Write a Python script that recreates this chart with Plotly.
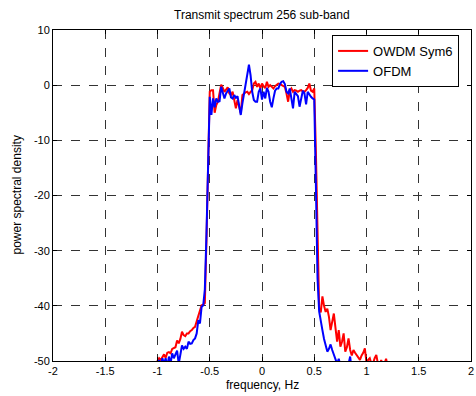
import numpy as np
import plotly.graph_objects as go

# frequency grid index k -> f = k/64 Hz, k from -68 to 80
k_index = list(range(-68, 81))
freq = [k / 64 for k in k_index]

owdm_sym6 = [
    # k=-68 .. -33 (left tail)
    -52, -51.5, -51, -50.5, -50, -49.5, -49.8, -49.2, -48.8, -49.4,
    -48.5, -48.4, -48.6, -47.8, -47.6, -47.5, -46.3, -46.8, -46, -44.7,
    -45.3, -45.5, -45, -45, -44.6, -44.4, -44, -43.8, -42.8, -41.7,
    -40.8, -39.9, -39.8, -39.5, -28, -13,
    # k=-32 .. 32 (pass band)
    -1.2, -0.9, -0.9, -5.0, -3.6, -3.0, -1.2, 0.1, -0.5, -1.2,
    -0.8, -0.4, -1.5, -1.8, -1.2, -2.5, -4.2, -2.7, -4.0, -5.1,
    -1.8, -1.5, -1.3, -1.2, -1.6, -1.2, -0.9, 0.3, 0.6, -0.3,
    0.3, -0.6, 0.3, -0.2, -0.5, 0.6, -0.3, 0.0, -0.3, -0.6,
    -0.2, 0.0, 0.3, 0.2, 0.0, -0.2, -0.3, -1.5, -3.0, -1.0,
    -0.6, -1.2, -0.9, -1.0, -1.2, -1.0, -0.9, -1.1, -1.2, -0.9,
    -0.5, 0.3, -1.0, -1.2, -0.6,
    # k=33 .. 80 (right tail)
    -12, -30, -40.5, -41.2, -38.3, -40, -41.1, -40.5, -42, -44.4,
    -42.5, -41.4, -44, -46.5, -44.4, -47.4, -46.5, -45, -48.3, -47.5,
    -45.9, -48, -49, -48, -48.5, -48.9, -49.5, -49.8, -49, -48.5,
    -47.7, -50.4, -49.8, -49.5, -50.5, -50.4, -49.5, -48.9, -50.5, -51,
    -49.8, -51, -50.5, -49.6, -51, -52, -51, -52,
]

ofdm = [
    # k=-68 .. -33 (left tail)
    -53, -52, -53, -52, -51, -49.8, -51, -49.5, -50.5, -49.5,
    -51, -49.2, -50.5, -48.6, -49.5, -48.8, -48.1, -50.5, -48.4, -47.2,
    -47.8, -47.4, -47.8, -46.5, -46.9, -46.8, -46.2, -45.9, -45, -42.6,
    -43.2, -40.2, -39.9, -37, -27, -12,
    # k=-32 .. 32 (pass band)
    -2.1, -5.4, -2.4, -4.0, -2.4, -3.0, -2.9, -0.3, -1.2, -2.4,
    -1.5, -0.9, -0.6, -2.2, -2.4, -1.8, -2.3, -2.0, -3.5, -5.4,
    -3.3, -1.5, 0.2, 1.8, 3.7, 1.8, -1.2, -2.7, -3.0, -3.0,
    -1.2, -0.6, -2.6, -1.2, -2.4, -0.5, -1.2, -3.0, -4.0, -2.4,
    -1.0, -0.6, -0.6, 0.2, 0.6, 0.7, 0.2, -1.2, -1.5, -0.6,
    -2.4, -4.2, -1.2, -1.6, -2.0, -3.9, -2.5, -1.0, -1.5, -3.5,
    -1.2, -1.8, -2.1, -2.4, -2.6,
    # k=33 .. 80 (right tail)
    -18, -35, -41, -43, -44.4, -46, -47.1, -48.3, -47.8, -47,
    -48, -48.9, -49.5, -50.5, -49.6, -50.8, -50.2, -51, -50.5, -51.5,
    -50.5, -49.2, -52, -53, -52.5, -54, -53, -55, -54, -53.5,
    -55, -56, -54, -55.5, -56, -55, -57, -56, -56.5, -57,
    -58, -57, -56.5, -58, -57.5, -59, -58, -58.5,
]

x_tickvals = [-2, -1.5, -1, -0.5, 0, 0.5, 1, 1.5, 2]
x_ticktext = ["-2", "-1.5", "-1", "-0.5", "0", "0.5", "1", "1.5", "2"]
y_tickvals = [-50, -40, -30, -20, -10, 0, 10]
y_ticktext = ["-50", "-40", "-30", "-20", "-10", "0", "10"]

FONT = "Liberation Sans, Arial, Helvetica, sans-serif"

fig = go.Figure()
fig.add_trace(go.Scatter(x=freq, y=owdm_sym6, mode="lines", name="OWDM Sym6",
                         line=dict(color="#ff0000", width=2)))
fig.add_trace(go.Scatter(x=freq, y=ofdm, mode="lines", name="OFDM",
                         line=dict(color="#0000ff", width=2)))

axis_common = dict(
    showline=True, linecolor="black", linewidth=1, mirror="ticks",
    ticks="inside", ticklen=4, tickcolor="black",
    showgrid=True, gridcolor="#333333", griddash="dash", gridwidth=1,
    zeroline=False, tickfont=dict(family=FONT, size=11, color="black"),
    ticklabeloverflow="allow",
)

fig.update_layout(
    width=476, height=396,
    margin=dict(l=53, r=2, t=30, b=35),
    paper_bgcolor="white", plot_bgcolor="white",
    showlegend=True,
    legend=dict(x=0.9715, y=0.985, xanchor="right", yanchor="top",
                bgcolor="white", bordercolor="black", borderwidth=1,
                font=dict(family=FONT, size=13, color="black"),
                tracegroupgap=0, itemwidth=30),
    xaxis=dict(range=[-2, 2], tickvals=x_tickvals, ticktext=x_ticktext, **axis_common),
    yaxis=dict(range=[-50, 10], tickvals=y_tickvals, ticktext=y_ticktext, **axis_common),
    annotations=[
        dict(text="Transmit spectrum 256 sub-band", xref="paper", yref="paper",
             x=0.5, y=1, yshift=15, xanchor="center", yanchor="middle", showarrow=False,
             font=dict(family=FONT, size=12, color="black")),
        dict(text="frequency, Hz", xref="paper", yref="paper",
             x=0.5, y=0, yshift=-24, xanchor="center", yanchor="middle", showarrow=False,
             font=dict(family=FONT, size=12, color="black")),
        dict(text="power spectral density", xref="paper", yref="paper",
             x=0, y=0.5, xshift=-37, textangle=-90, xanchor="center", yanchor="middle",
             showarrow=False, font=dict(family=FONT, size=12, color="black")),
    ],
)

fig.write_html("out.html")
